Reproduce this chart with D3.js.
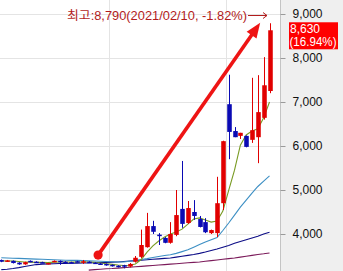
<!DOCTYPE html>
<html>
<head>
<meta charset="utf-8">
<script src="https://cdnjs.cloudflare.com/ajax/libs/d3/7.8.5/d3.min.js"></script>
<style>
  body { margin: 0; background: #fff; }
  svg { display: block; }
  .tick text { font-family: "Liberation Sans", Arial, sans-serif; font-size: 12px; fill: #111; }
</style>
</head>
<body>
<div id="chart"></div>
<script>
// trading days, 2020/12/03 .. 2021/02/10
var dates = ["2020/12/03","2020/12/04","2020/12/07","2020/12/08","2020/12/09","2020/12/10","2020/12/11",
  "2020/12/14","2020/12/15","2020/12/16","2020/12/17","2020/12/18","2020/12/21","2020/12/22","2020/12/23",
  "2020/12/24","2020/12/28","2020/12/29","2020/12/30","2021/01/04","2021/01/05","2021/01/06","2021/01/07",
  "2021/01/08","2021/01/11","2021/01/12","2021/01/13","2021/01/14","2021/01/15","2021/01/18","2021/01/19",
  "2021/01/20","2021/01/21","2021/01/22","2021/01/25","2021/01/26","2021/01/27","2021/01/28","2021/01/29",
  "2021/02/01","2021/02/02","2021/02/03","2021/02/04","2021/02/05","2021/02/08","2021/02/09","2021/02/10"];

var open  = [3410,3380,3390,3350,3310,3390,3370,3360,3320,3365,3390,3370,3360,3380,3360,3370,3350,3330,3320,3300,3280,3290,3260,
  3370,3480,3700,4180,3985,3910,3800,3980,4570,4250,4500,4340,4270,4020,4020,4700,6950,6340,6230,6230,6140,6200,6640,7250];
var high  = [3420,3410,3400,3360,3370,3400,3380,3370,3345,3400,3400,3380,3370,3390,3410,3380,3360,3340,3330,3310,3290,3300,3340,
  3500,4100,4480,4300,4020,3930,4270,5000,5660,4750,4770,4410,4360,4100,5300,6120,7620,6430,6300,6240,7550,7610,8020,8790];
var low   = [3360,3370,3330,3300,3300,3360,3340,3340,3310,3360,3300,3350,3340,3360,3320,3340,3320,3300,3280,3260,3240,3220,3240,
  3350,3450,3690,4000,3750,3790,3780,3950,4140,4230,4320,4150,4020,4000,3930,4545,5700,6200,6160,5970,6070,5610,6600,7200];
var close = [3370,3400,3340,3310,3360,3370,3345,3350,3340,3390,3370,3360,3355,3370,3380,3350,3330,3310,3295,3270,3250,3260,3320,
  3460,3750,4180,4050,3960,3800,4000,4430,4230,4590,4410,4160,4040,4090,4700,6110,6320,6200,6300,5980,6360,6770,7380,8630];

// moving averages as they appear on the chart
var ma5   = [3390,3388,3385,3375,3365,3360,3355,3355,3350,3360,3365,3365,3360,3360,3365,3365,3355,3340,3325,3310,3295,3285,3290,
  3320,3420,3590,3730,3840,3930,4000,4045,4110,4225,4340,4365,4320,4270,4295,4520,4990,5450,6020,6250,6340,6390,6640,7000];
var ma20  = [3460,3455,3450,3445,3440,3435,3430,3425,3420,3415,3410,3405,3400,3400,3395,3390,3385,3380,3375,3370,3365,3365,3380,
  3395,3420,3440,3465,3490,3510,3530,3560,3600,3640,3700,3760,3820,3870,3920,4080,4250,4430,4610,4770,4930,5080,5200,5320];
var ma60  = [3190,3200,3215,3235,3260,3285,3305,3315,3320,3325,3330,3330,3335,3335,3340,3340,3345,3350,3355,3360,3365,3375,3385,
  3395,3405,3415,3425,3435,3445,3455,3475,3495,3515,3535,3560,3590,3625,3660,3700,3740,3790,3830,3870,3910,3950,4000,4040];
var ma120 = [null,null,null,null,null,null,null,null,null,null,null,null,null,null,null,3180,3190,3200,3210,3215,3225,3235,3245,
  3255,3265,3275,3285,3295,3305,3315,3325,3335,3345,3355,3365,3380,3395,3410,3425,3440,3455,3475,3495,3515,3535,3550,3570];

var priceTicks = [4000,5000,6000,7000,8000,9000];
var highPrice = 8790, highDate = "2021/02/10";
var prevClose = 7380;
// red arrow: from (day index, price) to (day index, price)
var arrowFrom = [16.6, 3520], arrowTo = [44.4, 8800];

var width = 343, height = 271, plotRight = 280;

var svg = d3.select("#chart").append("svg")
    .attr("width", width)
    .attr("height", height);

var x = d3.scalePoint().domain(dates).range([1.3, 269.5]);
var xi = d3.scaleLinear().domain([0, dates.length - 1]).range(x.range());
var y = d3.scaleLinear().domain([4000, 9000]).range([234, 14]);
var bodyW = x.step() * 0.78;

svg.append("defs").append("clipPath").attr("id", "plotclip")
  .append("rect").attr("x", 0).attr("y", 0).attr("width", plotRight).attr("height", height);

var plot = svg.append("g").attr("clip-path", "url(#plotclip)");

// grid
plot.selectAll(".hgrid").data(priceTicks).enter().append("line")
    .attr("class", "hgrid")
    .attr("x1", 0).attr("x2", plotRight)
    .attr("y1", function(d) { return Math.round(y(d)) + 0.5; })
    .attr("y2", function(d) { return Math.round(y(d)) + 0.5; })
    .attr("stroke", "#e4e4e4");

var monthStarts = dates.filter(function(d, i) { return i > 0 && d.slice(5, 7) != dates[i - 1].slice(5, 7); });
plot.selectAll(".vgrid").data(monthStarts).enter().append("line")
    .attr("class", "vgrid")
    .attr("x1", function(d) { return Math.round(x(d) - x.step() / 2) + 0.5; })
    .attr("x2", function(d) { return Math.round(x(d) - x.step() / 2) + 0.5; })
    .attr("y1", 0).attr("y2", height)
    .attr("stroke", "#e4e4e4");

// moving average lines
var maLines = [[ma120, "#7b1a5a"], [ma60, "#0d0d86"], [ma20, "#3c8fc4"], [ma5, "#789a22"]];
maLines.forEach(function(m) {
  var line = d3.line()
      .defined(function(d) { return d != null; })
      .x(function(d, i) { return xi(i); })
      .y(function(d) { return y(d); });
  plot.append("path")
      .attr("d", line(m[0]))
      .attr("fill", "none")
      .attr("stroke", m[1])
      .attr("stroke-width", 1.1);
});

// candles
var candles = plot.selectAll(".candle").data(dates).enter().append("g").attr("class", "candle");
var col = function(d, i) { return close[i] >= open[i] ? "#e10000" : "#0a0ab4"; };

candles.append("line")
    .attr("x1", function(d) { return Math.round(x(d)) + 0.5; })
    .attr("x2", function(d) { return Math.round(x(d)) + 0.5; })
    .attr("y1", function(d, i) { return y(high[i]); })
    .attr("y2", function(d, i) { return y(low[i]); })
    .attr("stroke", col);

candles.append("rect")
    .attr("x", function(d) { return Math.round(x(d)) + 0.5 - bodyW / 2; })
    .attr("y", function(d, i) { return y(Math.max(open[i], close[i])); })
    .attr("width", bodyW)
    .attr("height", function(d, i) { return Math.max(1.5, Math.abs(y(open[i]) - y(close[i]))); })
    .attr("fill", col);

// red arrow annotation
var ax0 = xi(arrowFrom[0]), ay0 = y(arrowFrom[1]);
var ax1 = xi(arrowTo[0]), ay1 = y(arrowTo[1]);
var ang = Math.atan2(ay1 - ay0, ax1 - ax0);
var headL = 15, headW = 6;
var bx = ax1 - headL * Math.cos(ang), by = ay1 - headL * Math.sin(ang);

svg.append("line")
    .attr("x1", ax0).attr("y1", ay0)
    .attr("x2", bx + 2 * Math.cos(ang)).attr("y2", by + 2 * Math.sin(ang))
    .attr("stroke", "#ee1414")
    .attr("stroke-width", 3.6);
svg.append("path")
    .attr("d", "M" + ax1 + "," + ay1 +
      "L" + (bx + headW * Math.sin(ang)) + "," + (by - headW * Math.cos(ang)) +
      "L" + (bx - headW * Math.sin(ang)) + "," + (by + headW * Math.cos(ang)) + "Z")
    .attr("fill", "#ee1414");
svg.append("circle")
    .attr("cx", ax0).attr("cy", ay0).attr("r", 4.6)
    .attr("fill", "#ee1414");

// high price note
var fmt = d3.format(",");
var fromHigh = (close[close.length - 1] / highPrice - 1) * 100;
svg.append("text")
    .attr("x", 67).attr("y", 20)
    .attr("textLength", 180)
    .attr("lengthAdjust", "spacingAndGlyphs")
    .attr("fill", "#b21c1c")
    .style("font-family", "'Liberation Sans', 'Noto Sans CJK KR', sans-serif")
    .style("font-size", "12px")
    .text("최고:" + fmt(highPrice) + "(" + highDate + ", " + fromHigh.toFixed(2) + "%)");
svg.append("path")
    .attr("d", "M248,15.5H267M263,12.5L267,15.5L263,18.5")
    .attr("fill", "none")
    .attr("stroke", "#b21c1c")
    .attr("stroke-width", 1);

// right price axis panel
svg.append("rect")
    .attr("x", plotRight).attr("y", 0)
    .attr("width", width - plotRight).attr("height", height)
    .attr("fill", "#efefef");
svg.append("line")
    .attr("x1", plotRight + 0.5).attr("x2", plotRight + 0.5)
    .attr("y1", 0).attr("y2", height)
    .attr("stroke", "#c4c4c4");

var axis = d3.axisRight(y)
    .tickValues(priceTicks)
    .tickSize(5)
    .tickPadding(7)
    .tickFormat(fmt);
var axisG = svg.append("g")
    .attr("transform", "translate(" + (plotRight + 0.5) + ",0)")
    .call(axis);
axisG.select(".domain").remove();
axisG.selectAll(".tick line").attr("stroke", "#9a9a9a");

// current price box
var last = close[close.length - 1];
var pct = (last / prevClose - 1) * 100;
var boxY = y(last) - 8;
svg.append("rect")
    .attr("x", 289).attr("y", boxY)
    .attr("width", 49).attr("height", 27)
    .attr("fill", "#ff0000");
svg.append("text")
    .attr("x", 290).attr("y", boxY + 11)
    .attr("fill", "#fff")
    .style("font-family", "'Liberation Sans', Arial, sans-serif")
    .style("font-size", "12px")
    .text(fmt(last));
svg.append("text")
    .attr("x", 289.5).attr("y", boxY + 24)
    .attr("textLength", 47)
    .attr("lengthAdjust", "spacingAndGlyphs")
    .attr("fill", "#fff")
    .style("font-family", "'Liberation Sans', Arial, sans-serif")
    .style("font-size", "12px")
    .text("(" + pct.toFixed(2) + "%)");
</script>
</body>
</html>
